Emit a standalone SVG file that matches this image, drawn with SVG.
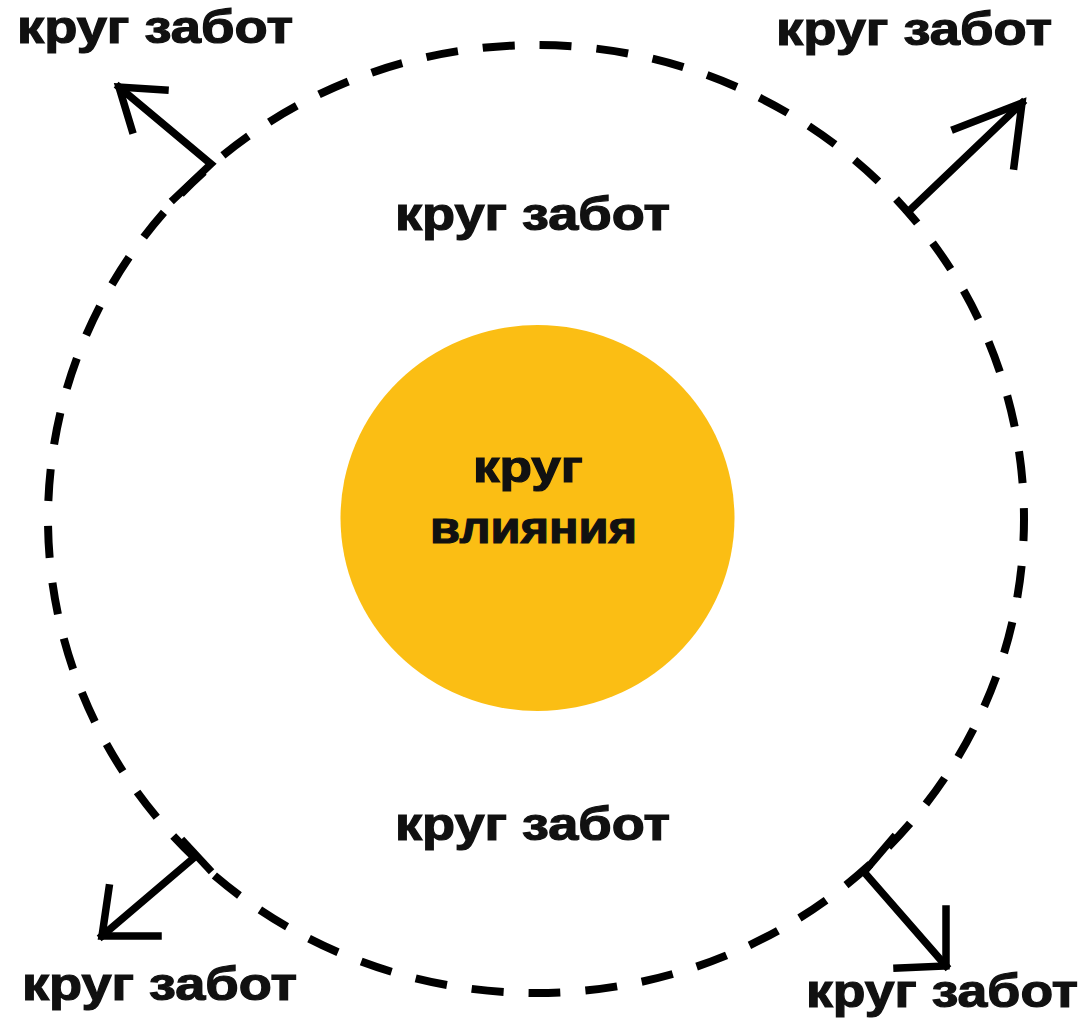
<svg xmlns="http://www.w3.org/2000/svg" width="1085" height="1029" viewBox="0 0 1085 1029">
  <style>
    .lbl { font-family: "Liberation Sans", Arial, sans-serif; font-weight: bold; font-size: 46px; fill: #111; stroke: #111; stroke-width: 1.2; }
    .inner { font-size: 44px; }
    .ring { fill: none; stroke: #000; stroke-width: 8; stroke-dasharray: 32 25; }
    .arrow { fill: none; stroke: #000; stroke-width: 7.5; stroke-linecap: square; stroke-linejoin: miter; }
  </style>
  <rect width="1085" height="1029" fill="#fff"/>

  <!-- outer dashed ring: circle of concern -->
  <g id="circle-of-concern">
    <ellipse class="ring" cx="536" cy="519" rx="488" ry="474" stroke-dashoffset="10"/>
    <text class="lbl" x="395" y="230" textLength="275" lengthAdjust="spacingAndGlyphs">круг забот</text>
    <text class="lbl" x="395" y="840" textLength="275" lengthAdjust="spacingAndGlyphs">круг забот</text>
  </g>

  <!-- inner filled disc: circle of influence -->
  <g id="circle-of-influence">
    <ellipse cx="537.5" cy="518" rx="197" ry="193" fill="#FBBE14"/>
    <text class="lbl inner" x="473" y="482" textLength="110" lengthAdjust="spacingAndGlyphs">круг</text>
    <text class="lbl inner" x="430" y="543" textLength="207" lengthAdjust="spacingAndGlyphs">влияния</text>
  </g>

  <!-- corner labels -->
  <g id="label-top-left">
    <text class="lbl" x="17" y="43" textLength="276" lengthAdjust="spacingAndGlyphs">круг забот</text>
  </g>
  <g id="label-top-right">
    <text class="lbl" x="776" y="45" textLength="276" lengthAdjust="spacingAndGlyphs">круг забот</text>
  </g>
  <g id="label-bottom-left">
    <text class="lbl" x="22" y="1000" textLength="275" lengthAdjust="spacingAndGlyphs">круг забот</text>
  </g>
  <g id="label-bottom-right">
    <text class="lbl" x="806" y="1007" textLength="272" lengthAdjust="spacingAndGlyphs">круг забот</text>
  </g>

  <!-- outward arrows -->
  <g id="connectors">
    <g id="arrow-top-left">
      <path class="arrow" d="M174 199 L211 164 L119 87"/>
      <path class="arrow" d="M165 90 L119 87 L132 130"/>
    </g>
    <g id="arrow-top-right">
      <path class="arrow" d="M908 212 L1022 103"/>
      <path class="arrow" d="M955 129 L1022 103 L1014 166"/>
    </g>
    <g id="arrow-bottom-left">
      <path class="arrow" d="M184 842 L209 869"/>
      <path class="arrow" d="M196 856 L102 936"/>
      <path class="arrow" d="M109 888 L102 936 L158 936"/>
    </g>
    <g id="arrow-bottom-right">
      <path class="arrow" d="M893 838 L864 872 L946 966"/>
      <path class="arrow" d="M946 909 L946 966 L897 968"/>
    </g>
  </g>
</svg>
